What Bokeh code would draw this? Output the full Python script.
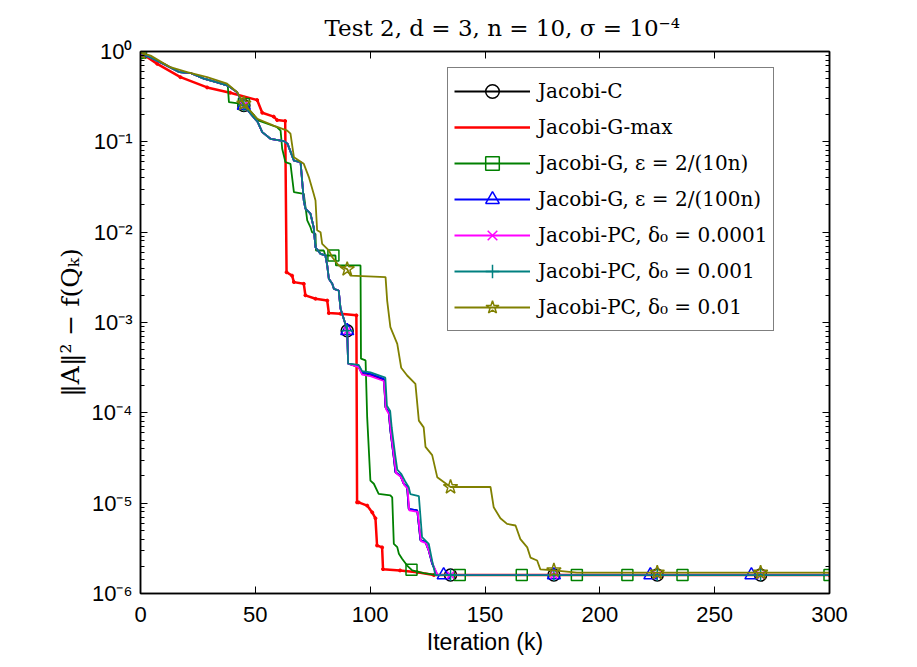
import numpy as np
from bokeh.plotting import figure
from bokeh.models import (Range1d, LinearAxis, LogAxis, FixedTicker,
                          CustomJSTickFormatter)
from bokeh.embed import file_html
from bokeh.resources import INLINE

# ---- convergence histories: (iteration, ||A||^2 - f(Q_k)) vertices ----
jacobi_c = [(0, 0.97), (4, 0.865), (10, 0.73), (17, 0.59), (22, 0.575), (27.6, 0.50),
            (33, 0.457), (38, 0.42), (42, 0.355), (45, 0.252), (51, 0.166), (53, 0.128),
            (56.6, 0.108), (62.4, 0.102), (64, 0.0955), (66.8, 0.062), (69.7, 0.0596),
            (71.1, 0.0224), (71.8, 0.0182), (74, 0.016), (75.4, 0.01135), (76.2, 0.0068),
            (78.4, 0.00575), (80.5, 0.00552), (81.3, 0.00428), (82, 0.00305), (83.5, 0.00268),
            (84.2, 0.00236), (86.3, 0.00226), (87.1, 0.00142), (87.8, 0.00125), (89, 0.001),
            (90, 8.1e-4), (90.4, 3.5e-4), (95, 3.2e-4), (96.5, 2.7e-4), (100.1, 2.6e-4),
            (106, 2.3e-4), (106.7, 1.15e-4), (108.1, 1.0e-4), (108.8, 6.4e-5), (110.3, 3.2e-5),
            (111, 2.2e-5), (113.2, 2.0e-5), (114.6, 1.64e-5), (116.1, 1.5e-5), (116.8, 8.6e-6),
            (120.5, 8.3e-6), (121.9, 3.9e-6), (124.1, 3.7e-6), (125.5, 3.0e-6), (127, 2.14e-6),
            (129.2, 1.6e-6), (300, 1.6e-6)]

jacobi_g_max = [(0, 0.97), (7.3, 0.73), (17.4, 0.52), (29, 0.40), (39, 0.35), (50.8, 0.29),
                (53, 0.21), (58, 0.19), (59.5, 0.174), (63, 0.17), (63.6, 3.6e-3), (66, 3.3e-3),
                (66.8, 2.8e-3), (71.1, 2.68e-3), (71.8, 2.0e-3), (76.2, 1.83e-3), (81.3, 1.75e-3),
                (82, 1.27e-3), (87.1, 1.25e-3), (94, 1.2e-3), (94.3, 1.02e-5), (95, 1.02e-5),
                (98.7, 9.4e-6), (100.9, 7.9e-6), (102.3, 6.8e-6), (103, 3.4e-6), (105.2, 3.24e-6),
                (105.6, 1.86e-6), (113, 1.8e-6), (120.5, 1.72e-6), (127.7, 1.6e-6), (300, 1.6e-6)]

jacobi_g_10n = [(0, 0.97), (4, 0.865), (10, 0.73), (17, 0.59), (22, 0.575), (27.6, 0.50),
                (33, 0.457), (38, 0.42), (38.5, 0.275), (45, 0.262), (46.4, 0.24), (51.5, 0.172),
                (59.5, 0.145), (61, 0.133), (61.7, 0.0838), (63.1, 0.0596), (65.3, 0.0571),
                (66.8, 0.0277), (71.1, 0.0266), (72.6, 0.0135), (74, 0.01135), (74.7, 0.01),
                (76.2, 0.00955), (76.4, 0.00627), (79.8, 0.00627), (80.5, 0.00552), (84.9, 0.00552),
                (85.1, 0.00428), (95.8, 0.00428), (96.0, 3.98e-4), (98, 3.8e-4), (98.7, 8.9e-5),
                (100.1, 1.78e-5), (101.6, 1.64e-5), (103.7, 1.27e-5), (108.8, 1.22e-5),
                (109.6, 1.16e-5), (110.3, 3.55e-6), (111.8, 3.26e-6), (112.5, 2.75e-6),
                (113.9, 2.42e-6), (116.1, 2.04e-6), (118.3, 1.8e-6), (123.3, 1.68e-6),
                (129.2, 1.6e-6), (300, 1.6e-6)]

jacobi_g_100n = [(0, 0.97), (4, 0.865), (10, 0.73), (17, 0.59), (22, 0.575), (27.6, 0.50),
                 (33, 0.457), (38, 0.42), (42, 0.355), (45, 0.252), (51, 0.166), (53, 0.128),
                 (56.6, 0.108), (62.4, 0.102), (64, 0.0955), (66.8, 0.062), (69.7, 0.0596),
                 (71.1, 0.0224), (71.8, 0.0182), (74, 0.016), (75.4, 0.01135), (76.2, 0.0068),
                 (78.4, 0.00575), (80.5, 0.00552), (81.3, 0.00428), (82, 0.00305), (83.5, 0.00268),
                 (84.2, 0.00236), (86.3, 0.00226), (87.1, 0.00142), (87.8, 0.00125), (89, 0.001),
                 (90, 8.1e-4), (90.4, 3.5e-4), (95, 3.34e-4), (96.5, 2.8e-4), (100.1, 2.7e-4),
                 (106, 2.38e-4), (106.7, 1.15e-4), (108.1, 1.02e-4), (108.8, 6.4e-5),
                 (110.3, 3.2e-5), (111, 2.2e-5), (113.2, 2.02e-5), (114.6, 1.64e-5),
                 (116.1, 1.51e-5), (116.8, 8.65e-6), (120.5, 8.3e-6), (121.9, 3.9e-6),
                 (124.1, 3.7e-6), (125.5, 3.0e-6), (127, 2.14e-6), (129.2, 1.6e-6), (300, 1.6e-6)]

jacobi_pc_1e4 = [(0, 0.97), (4, 0.865), (10, 0.73), (17, 0.59), (22, 0.575), (27.6, 0.50),
                 (33, 0.457), (38, 0.42), (42, 0.355), (45, 0.252), (51, 0.166), (53, 0.128),
                 (56.6, 0.108), (62.4, 0.102), (64, 0.0955), (66.8, 0.062), (69.7, 0.0596),
                 (71.1, 0.0224), (71.8, 0.0182), (74, 0.016), (75.4, 0.01135), (76.2, 0.0068),
                 (78.4, 0.00575), (80.5, 0.00552), (81.3, 0.00428), (82, 0.00305), (83.5, 0.00268),
                 (84.2, 0.00236), (86.3, 0.00226), (87.1, 0.00142), (87.8, 0.00125), (89, 0.001),
                 (90, 8.1e-4), (90.4, 3.5e-4), (95, 3.2e-4), (96.5, 2.65e-4), (100.1, 2.55e-4),
                 (106, 2.25e-4), (106.9, 1.1e-4), (108.3, 9.6e-5), (109, 6.2e-5), (110.5, 3.1e-5),
                 (111.3, 2.15e-5), (113.4, 1.95e-5), (114.8, 1.6e-5), (116.3, 1.45e-5),
                 (117, 8.3e-6), (120.7, 8.0e-6), (122.1, 3.8e-6), (124.3, 3.6e-6), (125.7, 2.9e-6),
                 (127.3, 2.1e-6), (129.4, 1.6e-6), (300, 1.6e-6)]

jacobi_pc_1e3 = [(0, 0.97), (4, 0.865), (10, 0.73), (17, 0.59), (22, 0.575), (27.6, 0.50),
                 (33, 0.457), (38, 0.42), (42, 0.355), (45, 0.252), (51, 0.166), (53, 0.128),
                 (56.6, 0.108), (62.4, 0.102), (64, 0.0955), (66.8, 0.062), (69.7, 0.0596),
                 (71.1, 0.0224), (71.8, 0.0182), (74, 0.016), (75.4, 0.01135), (76.2, 0.0068),
                 (78.4, 0.00575), (80.5, 0.00552), (81.3, 0.00428), (82, 0.00305), (83.5, 0.00268),
                 (84.2, 0.00236), (86.3, 0.00226), (87.1, 0.00142), (87.8, 0.00125), (89, 0.001),
                 (90, 8.1e-4), (90.4, 3.5e-4), (95, 3.4e-4), (96.5, 2.9e-4), (100.1, 2.8e-4),
                 (106.6, 2.45e-4), (107.3, 1.2e-4), (108.7, 1.05e-4), (109.4, 6.8e-5),
                 (110.9, 3.4e-5), (111.8, 2.35e-5), (113.6, 2.1e-5), (115.2, 1.75e-5),
                 (116.8, 1.5e-5), (117.5, 1.26e-5), (121.2, 1.2e-5), (122.6, 4.2e-6),
                 (125.5, 3.55e-6), (127, 2.3e-6), (128.4, 1.6e-6), (300, 1.6e-6)]

jacobi_pc_1e2 = [(0, 0.97), (4.4, 0.90), (13, 0.67), (20.3, 0.59), (29, 0.52), (37.7, 0.44),
                 (42.1, 0.355), (45, 0.265), (50.8, 0.18), (58, 0.151), (63.9, 0.133),
                 (65.3, 0.123), (66.8, 0.0676), (71.1, 0.0571), (73.3, 0.0407), (75.4, 0.0266),
                 (76.2, 0.0224), (76.9, 0.0105), (78.4, 0.01), (79.1, 0.0074), (82, 0.00627),
                 (83.5, 0.00528), (86.3, 0.00428), (90, 0.0039), (91.4, 0.0033), (106.7, 0.00318),
                 (107.4, 0.00175), (108.8, 8.9e-4), (111.8, 5.8e-4), (113.5, 3.16e-4),
                 (116.1, 2.59e-4), (119.7, 2.09e-4), (121.2, 8.2e-5), (123.3, 6.9e-5),
                 (124.1, 4.2e-5), (127, 3.4e-5), (129.2, 1.94e-5), (135, 1.51e-5), (152.4, 1.51e-5),
                 (153.8, 9.0e-6), (156.7, 6.8e-6), (159.6, 5.9e-6), (163.3, 5.66e-6),
                 (165.4, 4.0e-6), (168.4, 3.24e-6), (169.8, 2.5e-6), (172.7, 2.32e-6),
                 (174.1, 1.85e-6), (180, 1.8e-6), (190, 1.7e-6), (300, 1.7e-6)]

# iterations at which each method carries a marker
marks_c = [0, 45, 90, 135, 180, 225, 270]
marks_g_10n = [0, 45, 84, 118, 139, 166, 190, 212, 236, 300]
marks_g_100n = [0, 45, 90, 132, 180, 222, 266]
marks_pc = [0, 45, 90, 135, 180, 225, 270]

labels = ["Jacobi-C", "Jacobi-G-max", "Jacobi-G, ε = 2/(10n)", "Jacobi-G, ε = 2/(100n)",
          "Jacobi-PC, δ₀ = 0.0001", "Jacobi-PC, δ₀ = 0.001", "Jacobi-PC, δ₀ = 0.01"]

x_ticks = [0, 50, 100, 150, 200, 250, 300]
y_ticks = [1e-6, 1e-5, 1e-4, 1e-3, 1e-2, 1e-1, 1e0]

p = figure(width=917, height=667, output_backend="svg", toolbar_location=None,
           y_axis_type="log", x_range=Range1d(0, 300), y_range=Range1d(1e-6, 1),
           min_border_left=140, min_border_right=88, min_border_top=51, min_border_bottom=74)
p.background_fill_color = "white"
p.border_fill_color = "white"
p.grid.visible = False
p.outline_line_color = "black"
p.outline_line_width = 1.5

p.title.text = "Test 2, d = 3, n = 10, σ = 10⁻⁴"
p.title.text_font = "DejaVu Serif"
p.title.text_font_style = "normal"
p.title.text_font_size = "23px"
p.title.text_color = "black"
p.title.align = "left"
p.title.offset = 184
p.title.standoff = 22

minor_y = [m * d for d in y_ticks[:-1] for m in range(2, 10)]

sup_js = """
const sup = {"-": "\u207b", "0": "\u2070", "1": "\u00b9", "2": "\u00b2", "3": "\u00b3",
             "4": "\u2074", "5": "\u2075", "6": "\u2076", "7": "\u2077", "8": "\u2078", "9": "\u2079"};
const e = Math.round(Math.log10(tick));
return "10" + String(e).split("").map(c => sup[c]).join("");
"""


def style_axis(ax):
    ax.axis_line_color = "black"
    ax.axis_line_width = 1.5
    ax.major_tick_in = 7
    ax.major_tick_out = 0
    ax.minor_tick_in = 4
    ax.minor_tick_out = 0
    ax.major_tick_line_color = "black"
    ax.minor_tick_line_color = "black"
    ax.major_label_text_font = "Liberation Sans"
    ax.major_label_text_font_size = "22px"
    ax.major_label_text_color = "black"


xa = p.xaxis[0]
xa.ticker = FixedTicker(ticks=x_ticks)
style_axis(xa)
xa.minor_tick_line_color = None
xa.major_label_standoff = 13
xa.axis_label = "Iteration (k)"
xa.axis_label_text_font = "Liberation Sans"
xa.axis_label_text_font_style = "normal"
xa.axis_label_text_font_size = "23px"
xa.axis_label_text_color = "black"
xa.axis_label_standoff = 4

ya = p.yaxis[0]
ya.ticker = FixedTicker(ticks=y_ticks, minor_ticks=minor_y)
ya.formatter = CustomJSTickFormatter(code=sup_js)
style_axis(ya)
ya.major_label_standoff = 8
ya.axis_label = "‖A‖² − f(Qₖ)"
ya.axis_label_text_font = "DejaVu Serif"
ya.axis_label_text_font_style = "normal"
ya.axis_label_text_font_size = "25px"
ya.axis_label_text_color = "black"
ya.axis_label_standoff = 4

# box axes: ticks only, no labels
blank = CustomJSTickFormatter(code='return "";')

top = LinearAxis(ticker=FixedTicker(ticks=x_ticks), formatter=blank)
style_axis(top)
top.minor_tick_line_color = None
top.major_label_standoff = 0
p.add_layout(top, "above")

right = LogAxis(ticker=FixedTicker(ticks=y_ticks, minor_ticks=minor_y), formatter=blank)
style_axis(right)
right.major_label_standoff = 0
p.add_layout(right, "right")


def draw(pts, color, label, marker, marks, size, lw=1.8):
    it = np.array([a for a, _ in pts], dtype=float)
    val = np.array([b for _, b in pts], dtype=float)
    p.line(it, val, line_color=color, line_width=lw, legend_label=label)
    if marker is None:
        # point markers at each recorded iterate, merged into the thick line
        p.scatter(it, val, marker="circle", size=3, line_color=color, fill_color=color)
        return
    mx = np.array(marks, dtype=float)
    my = 10 ** np.interp(mx, it, np.log10(val))
    p.scatter(mx, my, marker=marker, size=size, line_color=color, line_width=1.5,
              fill_color=None, legend_label=label)


draw(jacobi_c, "black", labels[0], "circle", marks_c, 12)
draw(jacobi_g_max, "#ff0000", labels[1], None, None, 0, lw=2.5)
draw(jacobi_g_10n, "#008000", labels[2], "square", marks_g_10n, 11)
draw(jacobi_g_100n, "#0000ff", labels[3], "triangle", marks_g_100n, 13)
draw(jacobi_pc_1e4, "#ff00ff", labels[4], "x", marks_pc, 10)
draw(jacobi_pc_1e3, "#008080", labels[5], "cross", marks_pc, 12)
draw(jacobi_pc_1e2, "#808000", labels[6], "star", marks_pc, 15)

lg = p.legend[0]
lg.location = (307, 262)
lg.border_line_color = "black"
lg.border_line_width = 1.5
lg.background_fill_color = "white"
lg.background_fill_alpha = 1.0
lg.label_text_font = "DejaVu Serif"
lg.label_text_font_size = "20px"
lg.label_text_color = "black"
lg.glyph_width = 76
lg.glyph_height = 34
lg.label_height = 34
lg.spacing = 2
lg.padding = 6
lg.margin = 0
lg.label_standoff = 8

open("out.html", "w", encoding="utf-8").write(file_html(p, INLINE))
